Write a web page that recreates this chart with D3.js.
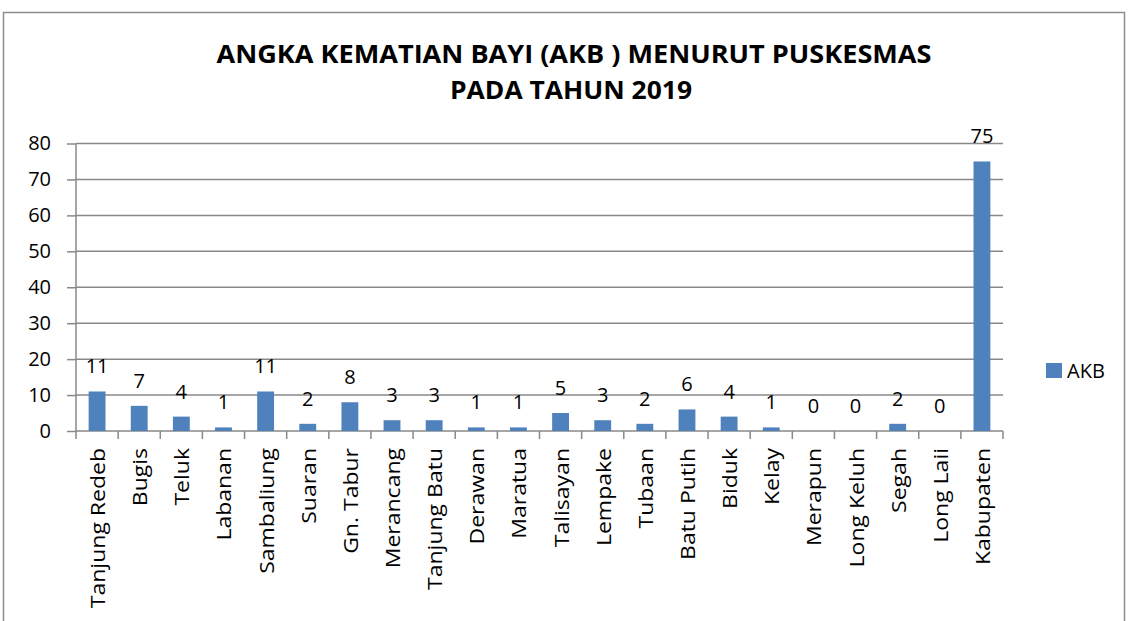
<!DOCTYPE html>
<html>
<head>
<meta charset="utf-8">
<script src="https://cdn.jsdelivr.net/npm/d3@7"></script>
<style>
  body { margin: 0; background: #fff; }
  svg { display: block; font-family: "Open Sans", sans-serif; }
</style>
</head>
<body>
<svg width="1128" height="621"></svg>
<script>
// data
var puskesmas = ["Tanjung Redeb", "Bugis", "Teluk", "Labanan", "Sambaliung", "Suaran",
    "Gn. Tabur", "Merancang", "Tanjung Batu", "Derawan", "Maratua", "Talisayan",
    "Lempake", "Tubaan", "Batu Putih", "Biduk", "Kelay", "Merapun", "Long Keluh",
    "Segah", "Long Laii", "Kabupaten"];
var akb = [11, 7, 4, 1, 11, 2, 8, 3, 3, 1, 1, 5, 3, 2, 6, 4, 1, 0, 0, 2, 0, 75];
var yTicks = [0, 10, 20, 30, 40, 50, 60, 70, 80];
var titleLines = ["ANGKA KEMATIAN BAYI (AKB ) MENURUT PUSKESMAS", "PADA TAHUN 2019"];
var seriesName = "AKB";

var svg = d3.select("svg");
var gridColor = "#898989",
    barColor = "#4f81bd";

// outer chart frame
svg.append("rect")
    .attr("x", 3.5).attr("y", 12.5)
    .attr("width", 1121).attr("height", 640)
    .attr("fill", "none")
    .attr("stroke", "#8c8c8c")
    .attr("stroke-width", 1.5);

var plotLeft = 76, plotRight = 1003, plotTop = 143.5, plotBottom = 431;

var x = d3.scaleBand()
    .domain(puskesmas)
    .range([plotLeft, plotRight])
    .paddingInner(0.6)
    .paddingOuter(0.3);

var y = d3.scaleLinear()
    .domain([0, 80])
    .range([plotBottom, plotTop]);

// title
svg.append("g").selectAll("text")
    .data(titleLines)
    .enter().append("text")
    .attr("x", function(d, i) { return i == 0 ? 574 : 571; })
    .attr("y", function(d, i) { return i == 0 ? 63 : 99; })
    .attr("text-anchor", "middle")
    .style("font-weight", "bold")
    .style("font-size", "25px")
    .attr("textLength", function(d, i) { return i == 0 ? 715 : 242; })
    .attr("lengthAdjust", "spacingAndGlyphs")
    .text(function(d) { return d; });

// gridlines
svg.append("g")
    .selectAll("line")
    .data(yTicks.slice(1))
    .enter().append("line")
    .attr("x1", plotLeft).attr("x2", plotRight)
    .attr("y1", function(d) { return y(d); })
    .attr("y2", function(d) { return y(d); })
    .attr("stroke", gridColor)
    .attr("stroke-width", 1.5);

// y axis
var yAxis = svg.append("g")
    .attr("transform", "translate(" + plotLeft + ",0)")
    .call(d3.axisLeft(y).tickValues(yTicks).tickSize(9).tickPadding(16));
yAxis.selectAll("line, path").attr("stroke", gridColor).attr("stroke-width", 1.5);
yAxis.select(".domain").attr("d", "M0," + plotTop + "V" + plotBottom);
yAxis.selectAll("text")
    .style("font-family", "'Open Sans', sans-serif")
    .style("font-size", "20px")
    .attr("fill", "#000");

// x axis line + ticks at category boundaries
var bounds = d3.range(puskesmas.length + 1).map(function(i) {
    return plotLeft + i * (plotRight - plotLeft) / puskesmas.length;
});
svg.append("line")
    .attr("x1", plotLeft).attr("x2", plotRight)
    .attr("y1", plotBottom).attr("y2", plotBottom)
    .attr("stroke", gridColor).attr("stroke-width", 1.5);
svg.append("g").selectAll("line")
    .data(bounds)
    .enter().append("line")
    .attr("x1", function(d) { return d; })
    .attr("x2", function(d) { return d; })
    .attr("y1", plotBottom).attr("y2", plotBottom + 8)
    .attr("stroke", gridColor).attr("stroke-width", 1.5);

// bars
svg.append("g").selectAll("rect")
    .data(akb)
    .enter().append("rect")
    .attr("x", function(d, i) { return x(puskesmas[i]); })
    .attr("y", function(d) { return y(d); })
    .attr("width", x.bandwidth())
    .attr("height", function(d) { return plotBottom - y(d); })
    .attr("fill", barColor);

// value labels
svg.append("g").selectAll("text")
    .data(akb)
    .enter().append("text")
    .attr("x", function(d, i) { return x(puskesmas[i]) + x.bandwidth() / 2; })
    .attr("y", function(d) { return y(d) - 18; })
    .attr("text-anchor", "middle")
    .style("font-size", "20px")
    .text(function(d) { return d; });

// category labels, rotated (stretched along reading direction like the original)
svg.append("g").selectAll("text")
    .data(puskesmas)
    .enter().append("text")
    .attr("transform", function(d) {
        return "translate(" + (x(d) + x.bandwidth() / 2 + 1) + "," + (plotBottom + 17) + ") rotate(-90) scale(1.15,1)";
    })
    .attr("dy", "0.35em")
    .attr("text-anchor", "end")
    .style("font-size", "20px")
    .text(function(d) { return d; });

// legend
svg.append("rect")
    .attr("x", 1046).attr("y", 363)
    .attr("width", 16).attr("height", 15)
    .attr("fill", barColor);
svg.append("text")
    .attr("x", 1067).attr("y", 378)
    .style("font-size", "20px")
    .text(seriesName);
</script>
</body>
</html>
